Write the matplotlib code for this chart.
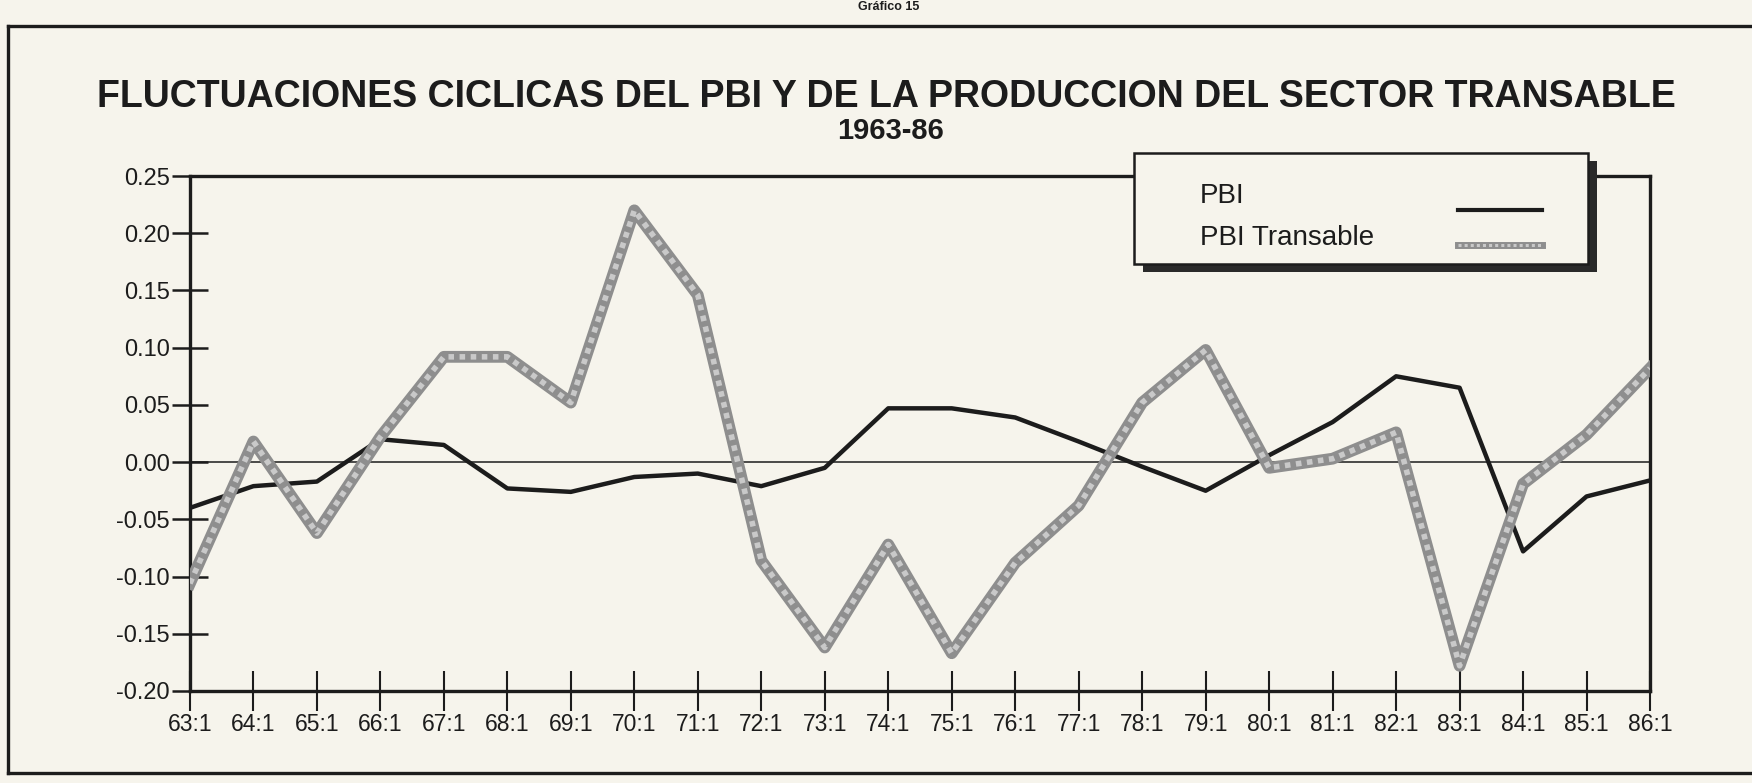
import matplotlib.pyplot as plt
from matplotlib.lines import Line2D
from matplotlib.patches import Rectangle

# cyclical components, 1963-86 (first quarter of each year)
periods = ["63:1", "64:1", "65:1", "66:1", "67:1", "68:1", "69:1", "70:1",
           "71:1", "72:1", "73:1", "74:1", "75:1", "76:1", "77:1", "78:1",
           "79:1", "80:1", "81:1", "82:1", "83:1", "84:1", "85:1", "86:1"]
pbi = [-0.040, -0.021, -0.017, 0.020, 0.015, -0.023, -0.026, -0.013,
       -0.010, -0.021, -0.005, 0.047, 0.047, 0.039, 0.018, -0.004,
       -0.025, 0.006, 0.035, 0.075, 0.065, -0.078, -0.030, -0.016]
pbi_transable = [-0.106, 0.018, -0.062, 0.022, 0.092, 0.092, 0.052, 0.220,
                 0.146, -0.086, -0.162, -0.072, -0.167, -0.088, -0.038, 0.052,
                 0.098, -0.005, 0.003, 0.026, -0.178, -0.019, 0.024, 0.082]
y_ticks = [-0.20, -0.15, -0.10, -0.05, 0.00, 0.05, 0.10, 0.15, 0.20, 0.25]

plt.rcParams['font.family'] = ['Liberation Sans', 'DejaVu Sans']
paper = '#f6f4ec'
ink = '#1c1c1c'
gray_dark = '#8e8e8e'
gray_light = '#c9c9c9'

fig = plt.figure(figsize=(17.52, 7.83), dpi=100, facecolor=paper)
ax = fig.add_axes([0.1084, 0.1175, 0.8334, 0.6577])
ax.set_facecolor(paper)

x = list(range(len(periods)))
ax.axhline(0, color=ink, lw=1.1, zorder=2)
ax.plot(x, pbi, color=ink, lw=3.2, zorder=3, solid_joinstyle='round')
# gray "halftone" line: dark stroke with a dotted light core
ax.plot(x, pbi_transable, color=gray_dark, lw=8.5, zorder=4, solid_joinstyle='round')
ax.plot(x, pbi_transable, color=gray_light, lw=4.0, ls=(0, (1, 1)), zorder=5)

ax.set_xlim(0, len(periods) - 1)
ax.set_ylim(-0.20, 0.25)
ax.set_xticks(x)
ax.set_xticklabels(periods, fontsize=16.5)
ax.set_yticks(y_ticks)
ax.set_yticklabels([f"{v:.2f}" for v in y_ticks], fontsize=17)
ax.tick_params(axis='y', direction='inout', length=26, width=1.8, pad=1.5, colors=ink)
ax.tick_params(axis='x', direction='inout', length=29, width=1.5, pad=1, colors=ink)
for side in ['left', 'bottom', 'right', 'top']:
    ax.spines[side].set_linewidth(2.4)
    ax.spines[side].set_color(ink)

# titles
fig.text(0.506, 0.876, "FLUCTUACIONES CICLICAS DEL PBI Y DE LA PRODUCCION DEL SECTOR TRANSABLE",
         ha='center', va='center', fontsize=27, fontweight='bold', color=ink)
fig.text(0.508, 0.833, "1963-86", ha='center', va='center', fontsize=21,
         fontweight='bold', color=ink)
fig.text(0.507, 0.999, "Gráfico 15", ha='center', va='top', fontsize=9,
         fontweight='bold', color=ink)

# outer frame of the page
fig.add_artist(Line2D([0.0046, 0.0046], [1 - 26 / 783, 1 - 773 / 783], color=ink, lw=2.4))
fig.add_artist(Line2D([0.0046, 1.0], [1 - 26 / 783, 1 - 26 / 783], color=ink, lw=2.4))
fig.add_artist(Line2D([0.0046, 1.0], [1 - 773 / 783, 1 - 773 / 783], color=ink, lw=2.4))

# legend box with drop shadow
lx, ly, lw_, lh = 1134 / 1752, 1 - 264 / 783, 454 / 1752, 111 / 783
fig.add_artist(Rectangle((lx + 9 / 1752, ly - 8 / 783), lw_, lh, transform=fig.transFigure,
                         facecolor='#2a2a2a', edgecolor='none', zorder=10))
fig.add_artist(Rectangle((lx, ly), lw_, lh, transform=fig.transFigure,
                         facecolor=paper, edgecolor=ink, lw=1.8, zorder=11))
fig.text(1200 / 1752, 1 - 196 / 783, "PBI", ha='left', va='center', fontsize=20,
         color=ink, zorder=12)
fig.text(1200 / 1752, 1 - 238 / 783, "PBI Transable", ha='left', va='center', fontsize=20,
         color=ink, zorder=12)
fig.add_artist(Line2D([1458 / 1752, 1542 / 1752], [1 - 210 / 783, 1 - 210 / 783],
                      color=ink, lw=3.0, zorder=12))
fig.add_artist(Line2D([1458 / 1752, 1542 / 1752], [1 - 245 / 783, 1 - 245 / 783],
                      color=gray_dark, lw=5, zorder=12))
fig.add_artist(Line2D([1458 / 1752, 1542 / 1752], [1 - 245 / 783, 1 - 245 / 783],
                      color=gray_light, lw=2.2, ls=(0, (1, 1)), zorder=13))

fig.savefig('out.png', dpi=100, facecolor=paper)
